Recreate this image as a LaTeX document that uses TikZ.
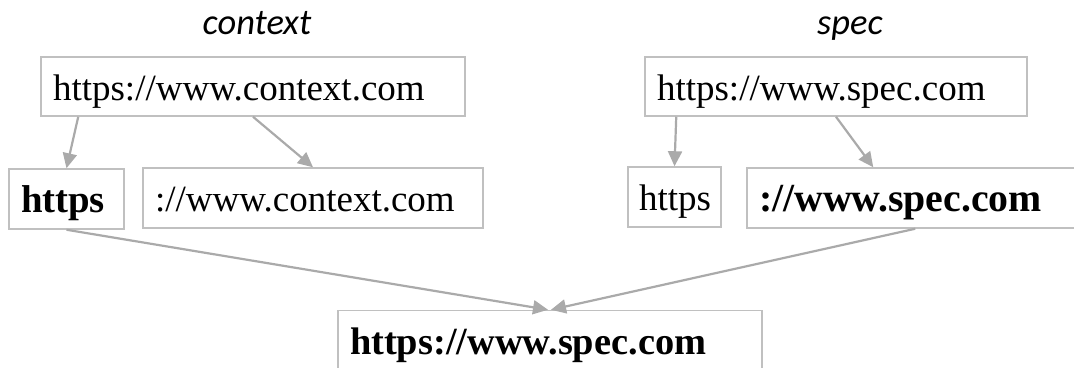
\documentclass[tikz,border=0pt]{standalone}
\usepackage{fontspec}
\setmainfont{Liberation Serif}
\newfontfamily\labelfont{Carlito}
\usetikzlibrary{arrows.meta}

\definecolor{boxgray}{RGB}{192,192,192}
\definecolor{arrowgray}{RGB}{170,170,170}

\begin{document}
\begin{tikzpicture}[x=1pt, y=-1pt,
  urlbox/.style={draw=boxgray, line width=1.5pt, inner xsep=12pt, inner ysep=0pt,
    align=left, minimum height=60pt, text height=30pt, text depth=3pt,
    font=\fontsize{37}{44}\selectfont},
  caption/.style={anchor=base, font=\labelfont\itshape\fontsize{36.5}{42}\selectfont},
  link/.style={draw=arrowgray, line width=2.2pt, -{Triangle[length=15pt,width=14pt]}}]

\useasboundingbox (0,0) rectangle (1074,367);
\clip (0,0) rectangle (1074,367);

% column captions
\node[caption] (capctx) at (257,34) {context};
\node[caption] (capspec) at (850,34) {spec};

% left column: context URL and its parts
\node[urlbox, text width=400pt, minimum height=59pt] (A) at (253,86.5) {https://www.context.com};
\node[urlbox, text width=91pt] (hb) at (66.5,199) {\fontsize{38.8}{44}\selectfont\textbf{https}};
\node[urlbox, text width=316pt] (ctx) at (313,198) {://www.context.com};

% right column: spec URL and its parts
\node[urlbox, text width=358pt, minimum height=59pt] (B) at (836,86.5) {https://www.spec.com};
\node[urlbox, text width=71pt, inner xsep=11pt] (h2) at (674.5,197) {https};
\node[urlbox, text width=309pt] (sb) at (913.5,198) {\fontsize{39.8}{44}\selectfont\textbf{://www.spec.com}};

% combined result (its lower edge runs past the bottom of the picture)
\node[urlbox, text width=400pt] (res) at (550,340.5) {\fontsize{38.4}{44}\selectfont\textbf{https://www.spec.com}};

% splitting arrows
\draw[link] ([xshift=38pt]A.south west) -- (hb.north);
\draw[link] (A.south) -- (ctx.north);
\draw[link] ([xshift=32pt]B.south west) -- (h2.north);
\draw[link] (B.south) -- ([xshift=127pt]sb.north west);

% merging arrows
\draw[link] (hb.south) -- ([xshift=-2pt]res.north);
\draw[link] ([xshift=169pt]sb.south west) -- ([xshift=1pt]res.north);
\end{tikzpicture}
\end{document}
